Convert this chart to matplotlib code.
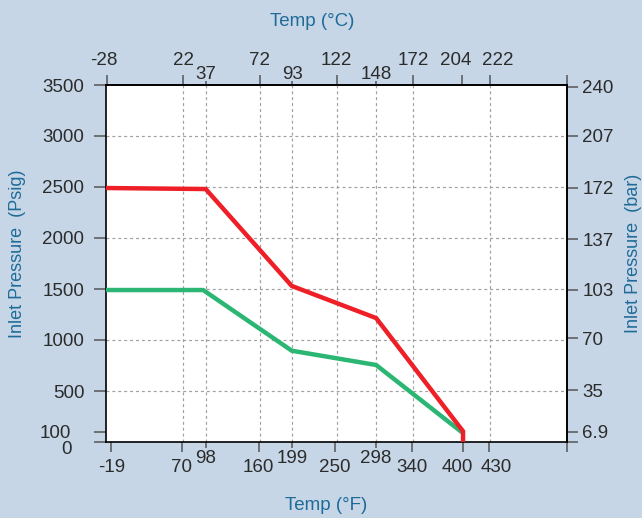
import matplotlib
matplotlib.use('Agg')
import matplotlib.pyplot as plt
import matplotlib.transforms as mtransforms
from matplotlib.ticker import FixedLocator, FixedFormatter

plt.rcParams['font.family'] = ['Liberation Sans', 'DejaVu Sans']

# ---- data ----
red_temp_f = [-19, 98, 199, 298, 400, 400]
red_psig = [2490, 2480, 1530, 1215, 105, 0]
green_temp_f = [-19, 95, 199, 298, 398]
green_psig = [1490, 1490, 895, 755, 100]

f_ticks_major = [-19, 70, 160, 250, 340, 400, 430]
f_ticks_minor = [98, 199, 298]
c_ticks_major = [-28, 22, 72, 122, 172, 204, 222]
c_ticks_minor = [37, 93, 148]
c_grid = [22, 37, 72, 93, 122, 148, 172, 222]
psig_ticks = [500, 1000, 1500, 2000, 2500, 3000, 3500]
psig_ticks_low = [0, 100]
psig_grid = [500, 1000, 1500, 2000, 2500, 3000]
bar_ticks = [6.9, 35, 70, 103, 137, 172, 207, 240]

X_MIN, X_MAX = -19, 522
Y_MIN, Y_MAX = 0, 3500

BG = '#c6d6e7'
LABEL_C = '#1f6b98'
TICK_TXT = '#2b2b2b'
TICK_C = '#555555'
FS = 13.5
FS_Y = 13

def f2c(f):
    return (f - 32) / 1.8

def c2f(c):
    return c * 1.8 + 32

def psi2bar(p):
    return p / 14.5038

def bar2psi(b):
    return b * 14.5038

fig = plt.figure(figsize=(6.42, 5.18), dpi=100, facecolor=BG)
ax = fig.add_axes([106/642, 1-442/518, (567-106)/642, (442-85)/518])
ax.set_facecolor('white')
ax.set_xlim(X_MIN, X_MAX)
ax.set_ylim(Y_MIN, Y_MAX)

# grid
for c in c_grid:
    ax.axvline(c2f(c), color='#a0a0a0', lw=0.85, ls=(0, (2.5, 2.5)), zorder=1)
for p in psig_grid:
    ax.axhline(p, color='#a0a0a0', lw=0.85, ls=(0, (2.5, 2.5)), zorder=1)

ax.plot(green_temp_f, green_psig, color='#2bb673', lw=3.2, solid_joinstyle='round', zorder=3)
ax.plot(red_temp_f, red_psig, color='#ee1f26', lw=3.2, solid_joinstyle='miter', zorder=4)

for s in ax.spines.values():
    s.set_color('black')
    s.set_linewidth(1.2)

# bottom axis (F)
ax.xaxis.set_major_locator(FixedLocator(f_ticks_major + [X_MAX]))
ax.xaxis.set_major_formatter(FixedFormatter([str(v) for v in f_ticks_major] + ['']))
ax.xaxis.set_minor_locator(FixedLocator(f_ticks_minor))
ax.xaxis.set_minor_formatter(FixedFormatter([str(v) for v in f_ticks_minor]))
ax.tick_params(axis='x', which='major', direction='out', length=7.2, width=1.1,
               color=TICK_C, labelsize=FS, labelcolor=TICK_TXT, pad=5.2)
ax.tick_params(axis='x', which='minor', direction='out', length=4.3, width=1.1,
               color=TICK_C, labelsize=FS, labelcolor=TICK_TXT, pad=1.6)

# left axis (psig)
ax.yaxis.set_major_locator(FixedLocator(psig_ticks))
ax.yaxis.set_major_formatter(FixedFormatter([str(v) for v in psig_ticks]))
ax.yaxis.set_minor_locator(FixedLocator(psig_ticks_low))
ax.yaxis.set_minor_formatter(FixedFormatter([str(v) for v in psig_ticks_low]))
ax.tick_params(axis='y', which='major', direction='out', length=9, width=1.1,
               color=TICK_C, labelsize=FS, labelcolor=TICK_TXT, pad=6.5)
ax.tick_params(axis='y', which='minor', direction='out', length=9, width=1.1,
               color=TICK_C, labelsize=FS, labelcolor=TICK_TXT, pad=16)

# top axis (C)
top = ax.secondary_xaxis('top', functions=(f2c, c2f))
c_right = f2c(X_MAX)
top.xaxis.set_major_locator(FixedLocator(c_ticks_major + [c_right]))
top.xaxis.set_major_formatter(FixedFormatter([str(v) for v in c_ticks_major] + ['']))
top.xaxis.set_minor_locator(FixedLocator(c_ticks_minor))
top.xaxis.set_minor_formatter(FixedFormatter([str(v) for v in c_ticks_minor]))
top.tick_params(axis='x', which='major', direction='out', length=7.2, width=1.1,
                color=TICK_C, labelsize=FS, labelcolor=TICK_TXT, pad=4.6)
top.tick_params(axis='x', which='minor', direction='out', length=2.9, width=1.1,
                color=TICK_C, labelsize=FS, labelcolor=TICK_TXT, pad=-1.4)
top.spines['top'].set_linewidth(1.2)

# right axis (bar)
right = ax.secondary_yaxis('right', functions=(psi2bar, bar2psi))
right.yaxis.set_major_locator(FixedLocator(bar_ticks + [0]))
right.yaxis.set_major_formatter(FixedFormatter([str(v) for v in bar_ticks] + ['']))
right.yaxis.set_minor_locator(FixedLocator([]))
right.tick_params(axis='y', which='major', direction='out', length=8, width=1.1,
                  color=TICK_C, labelsize=FS, labelcolor=TICK_TXT, pad=3)
right.spines['right'].set_linewidth(1.2)

# axis titles
fig.text(312/642, 1-22/518, 'Temp (°C)', color=LABEL_C, fontsize=FS, ha='center', va='center')
fig.text(326/642, 1-505/518, 'Temp (°F)', color=LABEL_C, fontsize=FS, ha='center', va='center')
fig.text(18/642, 1-254/518, 'Inlet Pressure  (Psig)', color=LABEL_C, fontsize=FS_Y,
         rotation=90, ha='center', va='center')
fig.text(633/642, 1-253/518, 'Inlet Pressure  (bar)', color=LABEL_C, fontsize=FS_Y,
         rotation=90, ha='center', va='center')

# small label nudges, as in the reference artwork (pixels)
fig.canvas.draw()

def nudge(artist, dx, dy):
    off = mtransforms.ScaledTranslation(dx / fig.dpi, dy / fig.dpi, fig.dpi_scale_trans)
    artist.set_transform(artist.get_transform() + off)

bottom_nudges = {-19: 6, 400: -6, 430: 8}
for t in ax.xaxis.get_major_ticks():
    loc = t.get_loc()
    for v, dx in bottom_nudges.items():
        if abs(loc - v) < 1e-6:
            nudge(t.label1, dx, 0)
            if v == -19:
                nudge(t.tick1line, 5, 0)

top_nudges = {204: -7, 222: 8, -28: -3}
for t in top.xaxis.get_major_ticks():
    loc = t.get_loc()
    for v, dx in top_nudges.items():
        if abs(loc - v) < 1e-6:
            nudge(t.label2, dx, 0)
            nudge(t.label1, dx, 0)

for t in ax.yaxis.get_minor_ticks():
    if abs(t.get_loc()) < 1e-6:
        nudge(t.label1, 0, -6)

fig.savefig('out.png', dpi=100, facecolor=BG)
